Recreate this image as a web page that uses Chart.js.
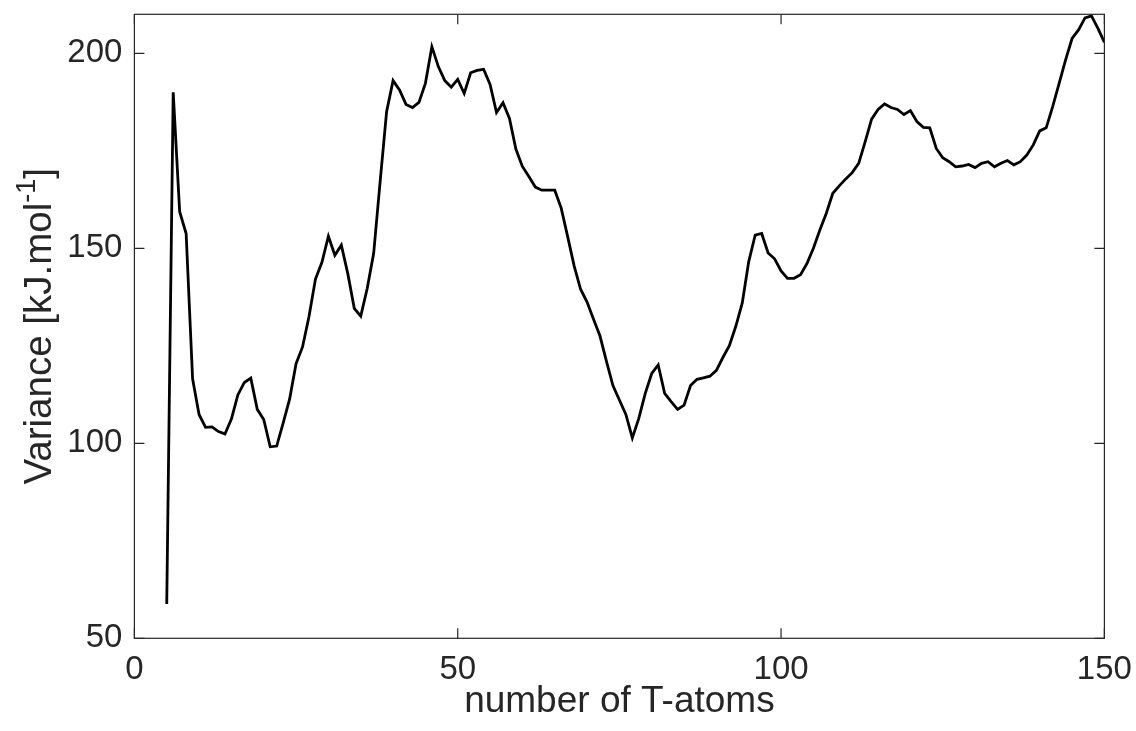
<!DOCTYPE html>
<html>
<head>
<meta charset="utf-8">
<script src="https://cdn.jsdelivr.net/npm/chart.js@4.4.1/dist/chart.umd.min.js"></script>
<style>
  html, body { margin: 0; padding: 0; background: #fff; }
  #wrap { width: 1136px; height: 731px; }
</style>
</head>
<body>
<div id="wrap"><canvas id="chart"></canvas></div>
<script>
const tAtoms = [
  5, 6, 7, 8, 9, 10, 11, 12, 13, 14, 15, 16, 17, 18, 19, 20, 21, 22, 23, 24,
  25, 26, 27, 28, 29, 30, 31, 32, 33, 34, 35, 36, 37, 38, 39, 40, 41, 42, 43, 44,
  45, 46, 47, 48, 49, 50, 51, 52, 53, 54, 55, 56, 57, 58, 59, 60, 61, 62, 63, 64,
  65, 66, 67, 68, 69, 70, 71, 72, 73, 74, 75, 76, 77, 78, 79, 80, 81, 82, 83, 84,
  85, 86, 87, 88, 89, 90, 91, 92, 93, 94, 95, 96, 97, 98, 99, 100, 101, 102, 103, 104,
  105, 106, 107, 108, 109, 110, 111, 112, 113, 114, 115, 116, 117, 118, 119, 120, 121, 122, 123, 124,
  125, 126, 127, 128, 129, 130, 131, 132, 133, 134, 135, 136, 137, 138, 139, 140, 141, 142, 143, 144,
  145, 146, 147, 148, 149, 150,
];

const variance = [
  58.8, 190.0, 159.4, 153.8, 116.5, 107.4, 104.1, 104.2, 103.0, 102.4,
  106.2, 112.4, 115.6, 116.7, 108.7, 106.1, 99.1, 99.3, 105.2, 111.3,
  120.4, 124.7, 132.5, 142.1, 146.4, 153.1, 148.2, 150.8, 143.5, 134.6,
  132.6, 139.7, 148.7, 167.1, 185.0, 193.0, 190.6, 186.9, 186.1, 187.4,
  192.3, 201.7, 196.6, 193.0, 191.3, 193.3, 189.7, 195.0, 195.6, 195.9,
  192.0, 184.8, 187.3, 183.3, 175.4, 171.0, 168.4, 165.7, 164.9, 164.9,
  164.9, 160.3, 153.0, 145.5, 139.5, 136.2, 131.8, 127.5, 121.0, 114.8,
  111.1, 107.4, 101.4, 106.4, 112.8, 117.9, 120.1, 112.8, 110.7, 108.7,
  109.8, 114.8, 116.4, 116.8, 117.2, 118.7, 122.0, 125.0, 130.0, 136.0,
  146.6, 153.4, 153.8, 148.8, 147.3, 144.2, 142.3, 142.3, 143.2, 146.1,
  150.0, 154.7, 159.0, 164.1, 166.0, 167.8, 169.4, 171.8, 177.3, 183.1,
  185.6, 187.0, 186.1, 185.6, 184.3, 185.3, 182.5, 181.0, 180.9, 175.6,
  173.2, 172.2, 170.9, 171.1, 171.5, 170.7, 171.8, 172.2, 170.9, 171.8,
  172.5, 171.4, 172.2, 173.9, 176.5, 180.1, 180.9, 186.3, 192.3, 198.3,
  203.8, 206.0, 209.1, 209.6, 206.4, 202.8,
];

const xTicks = [0, 50, 100, 150];
const yTicks = [50, 100, 150, 200];

const axisColor = "#262626";
const fontFamily = "'Liberation Sans', Arial, sans-serif";
Chart.defaults.font.family = fontFamily;

// matlab style box with inward ticks on all four sides
const boxPlugin = {
  id: "box",
  afterDatasetsDraw(chart) {
    const { ctx, chartArea: a, scales } = chart;
    const len = 10;
    ctx.save();
    ctx.strokeStyle = axisColor;
    ctx.lineWidth = 1.2;
    ctx.strokeRect(a.left, a.top, a.right - a.left, a.bottom - a.top);
    ctx.beginPath();
    xTicks.forEach((v) => {
      const px = scales.x.getPixelForValue(v);
      ctx.moveTo(px, a.bottom);
      ctx.lineTo(px, a.bottom - len);
      ctx.moveTo(px, a.top);
      ctx.lineTo(px, a.top + len);
    });
    yTicks.forEach((v) => {
      const py = scales.y.getPixelForValue(v);
      ctx.moveTo(a.left, py);
      ctx.lineTo(a.left + len, py);
      ctx.moveTo(a.right, py);
      ctx.lineTo(a.right - len, py);
    });
    ctx.stroke();
    ctx.restore();
  },
};

// y title with a real superscript, chart.js titles can't do that
const yTitlePlugin = {
  id: "yTitle",
  afterDraw(chart) {
    const { ctx, chartArea: a } = chart;
    const parts = [
      { text: "Variance [kJ.mol", size: 38.5, rise: 0 },
      { text: "-1", size: 27, rise: 16 },
      { text: "]", size: 38.5, rise: 0 },
    ];
    ctx.save();
    ctx.fillStyle = axisColor;
    ctx.textBaseline = "alphabetic";
    ctx.textAlign = "left";
    let total = 0;
    parts.forEach((p) => {
      ctx.font = p.size + "px " + fontFamily;
      p.w = ctx.measureText(p.text).width;
      total += p.w;
    });
    ctx.translate(51, (a.top + a.bottom) / 2);
    ctx.rotate(-Math.PI / 2);
    let x = -total / 2;
    parts.forEach((p) => {
      ctx.font = p.size + "px " + fontFamily;
      ctx.fillText(p.text, x, -p.rise);
      x += p.w;
    });
    ctx.restore();
  },
};

new Chart(document.getElementById("chart"), {
  type: "line",
  data: {
    datasets: [
      {
        data: tAtoms.map((t, i) => ({ x: t, y: variance[i] })),
        borderColor: "#000000",
        borderWidth: 2.8,
        pointRadius: 0,
        tension: 0,
        fill: false,
      },
    ],
  },
  options: {
    responsive: true,
    maintainAspectRatio: false,
    animation: false,
    layout: { padding: { top: 14.3, right: 31.6, bottom: 0, left: 0 } },
    plugins: {
      legend: { display: false },
      tooltip: { enabled: false },
    },
    scales: {
      x: {
        type: "linear",
        min: 0,
        max: 150,
        afterBuildTicks: (s) => {
          s.ticks = xTicks.map((v) => ({ value: v }));
        },
        afterFit: (s) => {
          s.height = 92.7;
          s.paddingLeft = 0;
          s.paddingRight = 0;
        },
        grid: { display: false, drawTicks: false },
        border: { display: false },
        ticks: {
          autoSkip: false,
          maxRotation: 0,
          padding: 12,
          color: axisColor,
          font: { size: 33 },
        },
        title: {
          display: true,
          text: "number of T-atoms",
          color: axisColor,
          font: { size: 37 },
          padding: { top: 0, bottom: 7 },
        },
      },
      y: {
        type: "linear",
        min: 50,
        max: 210,
        afterBuildTicks: (s) => {
          s.ticks = yTicks.map((v) => ({ value: v }));
        },
        afterFit: (s) => {
          s.width = 134.4;
          s.paddingTop = 0;
          s.paddingBottom = 0;
        },
        grid: { display: false, drawTicks: false },
        border: { display: false },
        ticks: {
          autoSkip: false,
          padding: 12,
          color: axisColor,
          font: { size: 33 },
        },
        title: { display: false },
      },
    },
  },
  plugins: [boxPlugin, yTitlePlugin],
});
</script>
</body>
</html>
